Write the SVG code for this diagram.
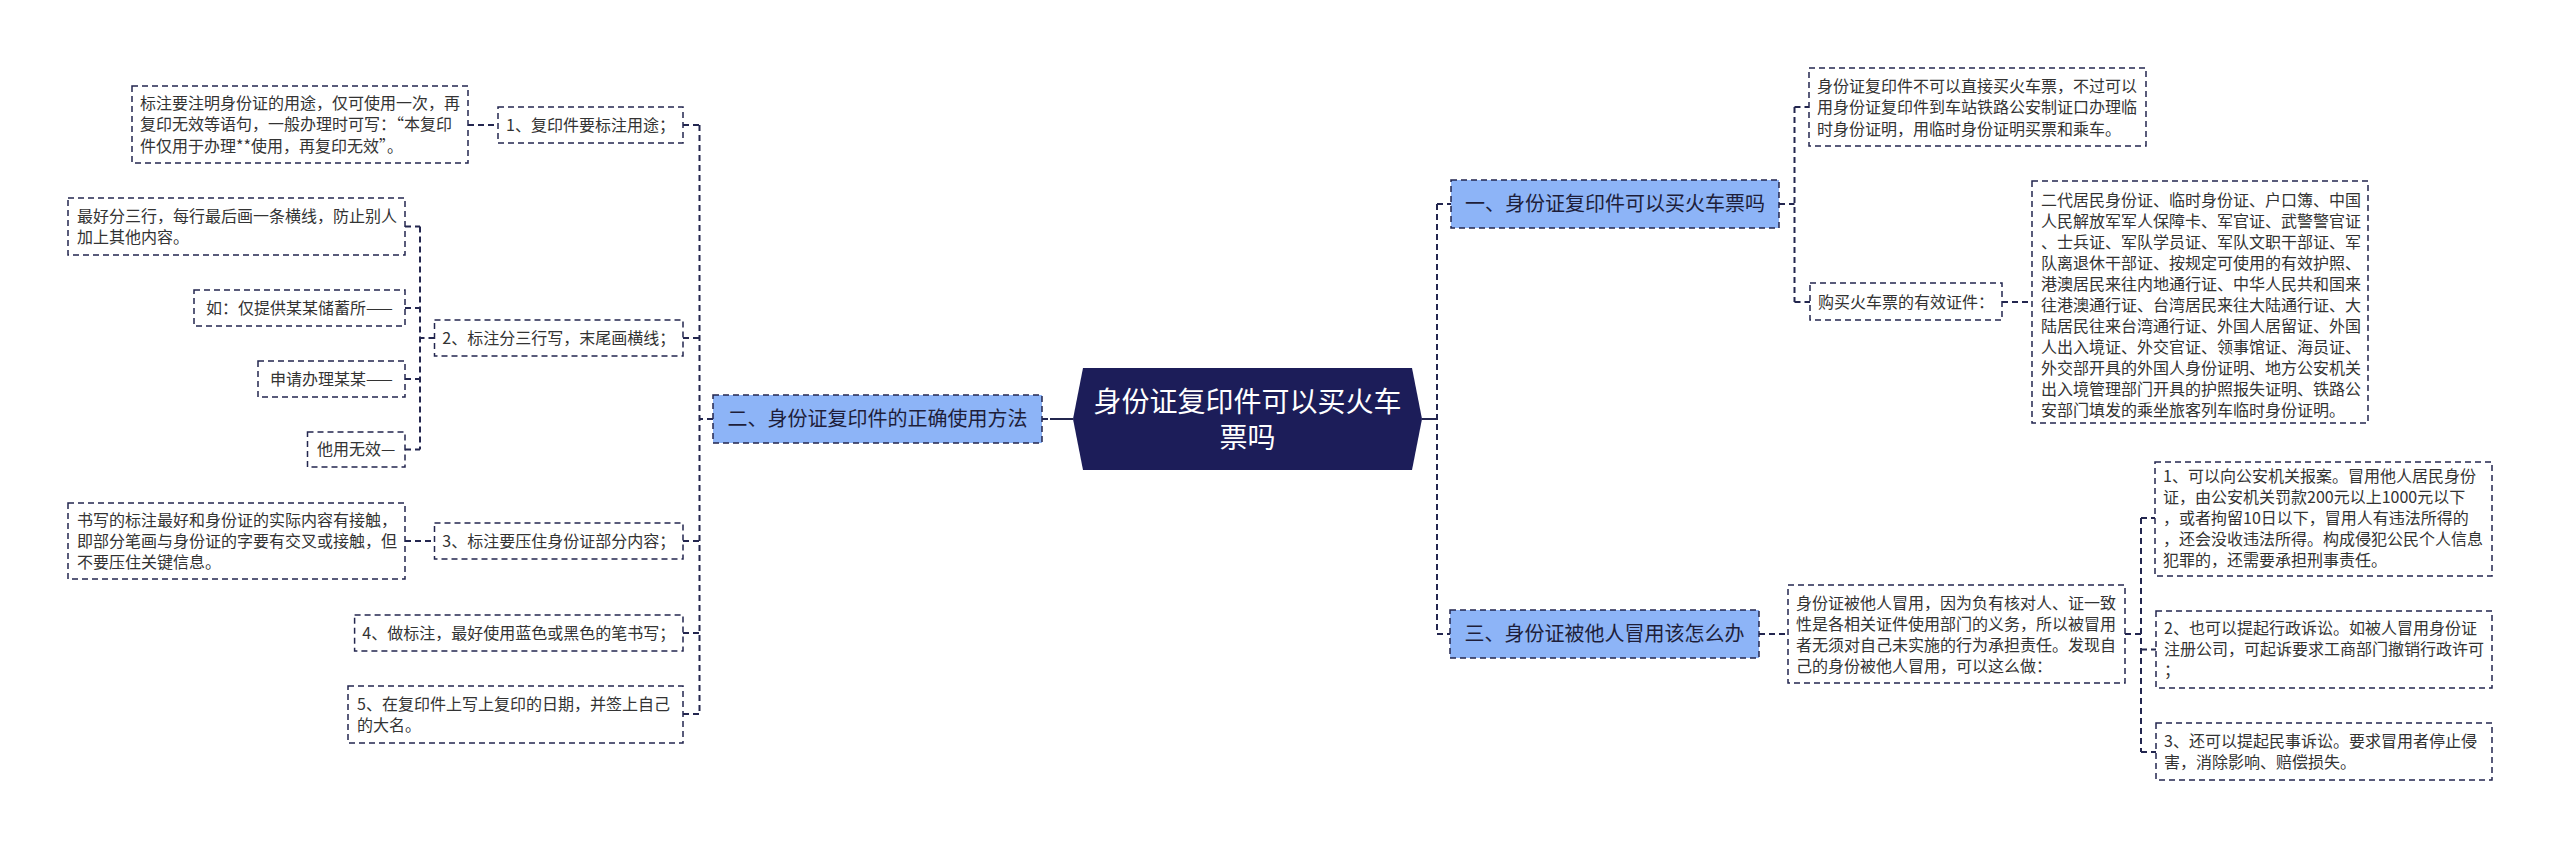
<svg xmlns="http://www.w3.org/2000/svg" width="2560" height="849" viewBox="0 0 2560 849">
<style>
.box{fill:#ffffff;stroke:#23264f;stroke-width:1.5;stroke-dasharray:6,4}
.blue{fill:#8db4f7;stroke:#23264f;stroke-width:1.5;stroke-dasharray:6,4}
.t{font-family:"Noto Sans CJK SC","Noto Sans",sans-serif;font-size:16px;fill:#333333}
.tb{font-family:"Noto Sans CJK SC","Noto Sans",sans-serif;font-size:20px;fill:#1e1e3a}
.tc{font-family:"Noto Sans CJK SC","Noto Sans",sans-serif;font-size:28px;fill:#ffffff}
.mid{text-anchor:middle}
.c{fill:none;stroke:#23264f;stroke-width:2;stroke-dasharray:6,4}
.cs{fill:none;stroke:#23264f;stroke-width:2}
</style>
<rect width="2560" height="849" fill="#ffffff"/>
<g id="connectors">
<path class="cs" d="M1050,419 H1073 M1422,419 H1437"/>
<path class="c" d="M1042,419 H1050"/>
<path class="c" d="M1437,204 V634 M1437,204 H1451 M1437,634 H1450"/>
<path class="c" d="M713,419 H699.5 M699.5,125 V714 M683,125 H699.5 M683,338 H699.5 M683,541 H699.5 M683,633 H699.5 M683,714 H699.5"/>
<path class="c" d="M468,125 H498"/>
<path class="c" d="M434.5,338 H420 M420,226.5 V449.5 M405,226.5 H420 M405,308 H420 M405,379 H420 M405,449.5 H420"/>
<path class="c" d="M405,541 H434.5"/>
<path class="c" d="M1779,204 H1794.5 M1794.5,107 V302 M1794.5,107 H1809 M1794.5,302 H1810 M2002,302 H2032"/>
<path class="c" d="M1759,634 H1788 M2125,634 H2141 M2141,518 V752 M2141,518 H2155 M2141,649.5 H2156 M2141,752 H2156"/>
</g>
<g id="center">
<polygon points="1083,368 1412,368 1422,419 1412,470 1083,470 1073,419" fill="#1c1d59"/>
<text class="tc mid" x="1247.5" y="412">身份证复印件可以买火车</text>
<text class="tc mid" x="1247.5" y="448">票吗</text>
</g>
<g id="n-er">
<rect class="blue" x="713" y="395" width="329" height="48"/>
<text class="tb mid" x="877.5" y="426">二、身份证复印件的正确使用方法</text>
</g>
<g id="n-l1">
<rect class="box" x="498" y="107" width="185" height="36"/>
<text class="t mid" x="590.5" y="130.5">1、复印件要标注用途；</text>
</g>
<g id="n-l1a">
<rect class="box" x="132" y="86" width="336" height="77"/>
<text class="t" x="140" y="108.5">标注要注明身份证的用途，仅可使用一次，再</text>
<text class="t" x="140" y="130">复印无效等语句，一般办理时可写：“本复印</text>
<text class="t" x="140" y="151.5">件仅用于办理**使用，再复印无效”。</text>
</g>
<g id="n-l2">
<rect class="box" x="434.5" y="320" width="248.5" height="36"/>
<text class="t mid" x="558.75" y="343.5">2、标注分三行写，末尾画横线；</text>
</g>
<g id="n-l2a">
<rect class="box" x="68" y="198" width="337" height="57"/>
<text class="t" x="77" y="221.5">最好分三行，每行最后画一条横线，防止别人</text>
<text class="t" x="77" y="242.5">加上其他内容。</text>
</g>
<g id="n-l2b">
<rect class="box" x="194" y="290" width="211" height="36"/>
<text class="t mid" x="299.5" y="313.5">如：仅提供某某储蓄所——</text>
</g>
<g id="n-l2c">
<rect class="box" x="258" y="361" width="147" height="36"/>
<text class="t mid" x="331.5" y="384.5">申请办理某某——</text>
</g>
<g id="n-l2d">
<rect class="box" x="307.5" y="432" width="97.5" height="35"/>
<text class="t mid" x="356.25" y="455">他用无效—</text>
</g>
<g id="n-l3">
<rect class="box" x="434.5" y="523" width="248.5" height="36"/>
<text class="t mid" x="558.75" y="546.5">3、标注要压住身份证部分内容；</text>
</g>
<g id="n-l3a">
<rect class="box" x="68" y="503" width="337" height="76"/>
<text class="t" x="77" y="525.5">书写的标注最好和身份证的实际内容有接触，</text>
<text class="t" x="77" y="546.5">即部分笔画与身份证的字要有交叉或接触，但</text>
<text class="t" x="77" y="567.5">不要压住关键信息。</text>
</g>
<g id="n-l4">
<rect class="box" x="354.6" y="615" width="328.4" height="36"/>
<text class="t mid" x="518.8" y="638.5">4、做标注，最好使用蓝色或黑色的笔书写；</text>
</g>
<g id="n-l5">
<rect class="box" x="348" y="686" width="335" height="57"/>
<text class="t" x="357" y="709.5">5、在复印件上写上复印的日期，并签上自己</text>
<text class="t" x="357" y="730.5">的大名。</text>
</g>
<g id="n-yi">
<rect class="blue" x="1451" y="180" width="328" height="48"/>
<text class="tb mid" x="1615" y="211">一、身份证复印件可以买火车票吗</text>
</g>
<g id="n-r1a">
<rect class="box" x="1809" y="68" width="337" height="78"/>
<text class="t" x="1817" y="91.5">身份证复印件不可以直接买火车票，不过可以</text>
<text class="t" x="1817" y="113">用身份证复印件到车站铁路公安制证口办理临</text>
<text class="t" x="1817" y="134.5">时身份证明，用临时身份证明买票和乘车。</text>
</g>
<g id="n-r1b">
<rect class="box" x="1810" y="283" width="192" height="37"/>
<text class="t mid" x="1906" y="307.5">购买火车票的有效证件：</text>
</g>
<g id="n-r1c">
<rect class="box" x="2032" y="181" width="336" height="242"/>
<text class="t" x="2041" y="205.5">二代居民身份证、临时身份证、户口簿、中国</text>
<text class="t" x="2041" y="226.5">人民解放军军人保障卡、军官证、武警警官证</text>
<text class="t" x="2041" y="247.5">、士兵证、军队学员证、军队文职干部证、军</text>
<text class="t" x="2041" y="268.5">队离退休干部证、按规定可使用的有效护照、</text>
<text class="t" x="2041" y="289.5">港澳居民来往内地通行证、中华人民共和国来</text>
<text class="t" x="2041" y="310.5">往港澳通行证、台湾居民来往大陆通行证、大</text>
<text class="t" x="2041" y="331.5">陆居民往来台湾通行证、外国人居留证、外国</text>
<text class="t" x="2041" y="352.5">人出入境证、外交官证、领事馆证、海员证、</text>
<text class="t" x="2041" y="373.5">外交部开具的外国人身份证明、地方公安机关</text>
<text class="t" x="2041" y="394.5">出入境管理部门开具的护照报失证明、铁路公</text>
<text class="t" x="2041" y="415.5">安部门填发的乘坐旅客列车临时身份证明。</text>
</g>
<g id="n-san">
<rect class="blue" x="1450" y="610" width="309" height="48"/>
<text class="tb mid" x="1604.5" y="641">三、身份证被他人冒用该怎么办</text>
</g>
<g id="n-r3a">
<rect class="box" x="1788" y="585" width="337" height="98"/>
<text class="t" x="1796" y="608.5">身份证被他人冒用，因为负有核对人、证一致</text>
<text class="t" x="1796" y="629.5">性是各相关证件使用部门的义务，所以被冒用</text>
<text class="t" x="1796" y="650.5">者无须对自己未实施的行为承担责任。发现自</text>
<text class="t" x="1796" y="671.5">己的身份被他人冒用，可以这么做：</text>
</g>
<g id="n-r3b">
<rect class="box" x="2155" y="462" width="337" height="114"/>
<text class="t" x="2163" y="481.5">1、可以向公安机关报案。冒用他人居民身份</text>
<text class="t" x="2163" y="502.5">证，由公安机关罚款200元以上1000元以下</text>
<text class="t" x="2163" y="523.5">，或者拘留10日以下，冒用人有违法所得的</text>
<text class="t" x="2163" y="544.5">，还会没收违法所得。构成侵犯公民个人信息</text>
<text class="t" x="2163" y="565.5">犯罪的，还需要承担刑事责任。</text>
</g>
<g id="n-r3c">
<rect class="box" x="2156" y="611" width="336" height="77"/>
<text class="t" x="2164" y="634">2、也可以提起行政诉讼。如被人冒用身份证</text>
<text class="t" x="2164" y="655">注册公司，可起诉要求工商部门撤销行政许可</text>
<text class="t" x="2164" y="676">；</text>
</g>
<g id="n-r3d">
<rect class="box" x="2156" y="723" width="336" height="57"/>
<text class="t" x="2164" y="746.5">3、还可以提起民事诉讼。要求冒用者停止侵</text>
<text class="t" x="2164" y="767.5">害，消除影响、赔偿损失。</text>
</g>
</svg>
